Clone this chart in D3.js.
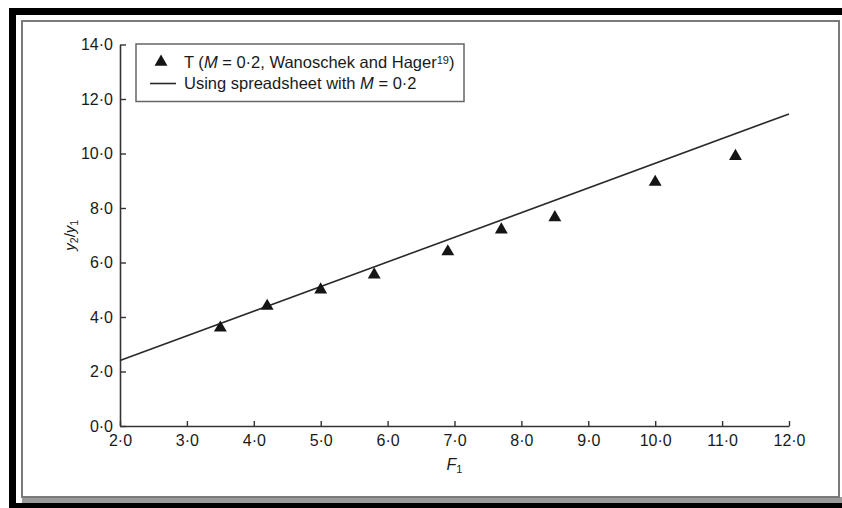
<!DOCTYPE html>
<html>
<head>
<meta charset="utf-8">
<script src="https://cdn.jsdelivr.net/npm/d3@7/dist/d3.min.js"></script>
<style>
  html, body { margin: 0; padding: 0; background: #fff; }
  svg { display: block; }
  text { font-family: "Liberation Sans", Arial, Helvetica, sans-serif; fill: #1a1a1a; }
</style>
</head>
<body>
<svg id="chart" width="842" height="508"></svg>
<script>
// Measured hydraulic-jump depth ratios (Wanoschek and Hager, M = 0.2)
const froudeMeasured = [3.5, 4.2, 5.0, 5.8, 6.9, 7.7, 8.5, 10.0, 11.2];
const ratioMeasured  = [3.6, 4.4, 5.0, 5.55, 6.4, 7.2, 7.65, 8.95, 9.9];

// Spreadsheet prediction with M = 0.2
const froudeModel = [2.0, 12.0];
const ratioModel  = [2.4, 11.45];

// Axis ticks
const xTicks = [2, 3, 4, 5, 6, 7, 8, 9, 10, 11, 12];
const yTicks = [0, 2, 4, 6, 8, 10, 12, 14];

const fmt = d => d.toFixed(1).replace(".", "\u00B7");

const svg = d3.select("#chart");

// Page frame: heavy black edges, thin grey inner rule and grey bottom strip
svg.append("rect").attr("x", 9).attr("y", 8).attr("width", 833).attr("height", 7).attr("fill", "#000");
svg.append("rect").attr("x", 9).attr("y", 8).attr("width", 7).attr("height", 500).attr("fill", "#000");
svg.append("rect").attr("x", 9).attr("y", 503).attr("width", 833).attr("height", 5).attr("fill", "#000");
svg.append("rect").attr("x", 22).attr("y", 497).attr("width", 820).attr("height", 6).attr("fill", "#9a9a9a");
svg.append("rect").attr("x", 22).attr("y", 21).attr("width", 817).attr("height", 476)
  .attr("fill", "none").attr("stroke", "#7a7a7a").attr("stroke-width", 2);

const x = d3.scaleLinear().domain([2, 12]).range([120, 789]);
const y = d3.scaleLinear().domain([0, 14]).range([426, 44.5]);

const axisStyle = g => {
  g.select(".domain").attr("stroke", "#333").attr("stroke-width", 1.6);
  g.selectAll(".tick line").attr("stroke", "#333").attr("stroke-width", 1.4);
  g.selectAll(".tick text")
    .attr("fill", "#1a1a1a")
    .style("font-size", "16px");
};

svg.append("g")
  .attr("transform", `translate(0,${y(0)})`)
  .call(d3.axisBottom(x).tickValues(xTicks).tickFormat(fmt)
    .tickSizeInner(-5).tickSizeOuter(0).tickPadding(8.5))
  .call(axisStyle);

svg.append("g")
  .attr("transform", `translate(${x(2)},0)`)
  .call(d3.axisLeft(y).tickValues(yTicks).tickFormat(fmt)
    .tickSizeInner(-6).tickSizeOuter(0).tickPadding(7))
  .call(axisStyle);

// Axis titles
const xt = svg.append("text")
  .attr("x", (x(2) + x(12)) / 2).attr("y", 470)
  .attr("text-anchor", "middle").style("font-size", "16px");
xt.append("tspan").attr("font-style", "italic").text("F");
xt.append("tspan").attr("baseline-shift", "-25%").style("font-size", "11px").text("1");

const yt = svg.append("text")
  .attr("transform", `translate(75,${(y(0) + y(14)) / 2}) rotate(-90)`)
  .attr("text-anchor", "middle").style("font-size", "15px");
yt.append("tspan").attr("font-style", "italic").text("y");
yt.append("tspan").attr("baseline-shift", "-25%").style("font-size", "10.5px").text("2");
yt.append("tspan").text("/");
yt.append("tspan").attr("font-style", "italic").text("y");
yt.append("tspan").attr("baseline-shift", "-25%").style("font-size", "10.5px").text("1");

// Prediction line
const modelPts = froudeModel.map((f, i) => [f, ratioModel[i]]);
svg.append("path")
  .datum(modelPts)
  .attr("fill", "none").attr("stroke", "#2a2a2a").attr("stroke-width", 1.6)
  .attr("d", d3.line().x(d => x(d[0])).y(d => y(d[1])));

// Measured points
const tri = d3.symbol().type(d3.symbolTriangle).size(72);
svg.append("g").selectAll("path")
  .data(froudeMeasured.map((f, i) => [f, ratioMeasured[i]]))
  .join("path")
  .attr("d", tri)
  .attr("fill", "#151515")
  .attr("transform", d => `translate(${x(d[0])},${y(d[1])})`);

// Legend
const lg = svg.append("g");
lg.append("rect").attr("x", 136).attr("y", 44).attr("width", 328).attr("height", 57.5)
  .attr("fill", "#fff").attr("stroke", "#666").attr("stroke-width", 1.5);
lg.append("path").attr("d", tri).attr("fill", "#151515").attr("transform", "translate(161,62)");
lg.append("line").attr("x1", 150).attr("x2", 176).attr("y1", 83.5).attr("y2", 83.5)
  .attr("stroke", "#2a2a2a").attr("stroke-width", 1.6);

const l1 = lg.append("text").attr("x", 184).attr("y", 67.5).style("font-size", "16.5px");
l1.append("tspan").text("T (");
l1.append("tspan").attr("font-style", "italic").text("M");
l1.append("tspan").text(" = 0\u00B72, Wanoschek and Hager");
l1.append("tspan").attr("baseline-shift", "40%").style("font-size", "11px").text("19");
l1.append("tspan").text(")");

const l2 = lg.append("text").attr("x", 184).attr("y", 89).style("font-size", "16.5px");
l2.append("tspan").text("Using spreadsheet with ");
l2.append("tspan").attr("font-style", "italic").text("M");
l2.append("tspan").text(" = 0\u00B72");
</script>
</body>
</html>
